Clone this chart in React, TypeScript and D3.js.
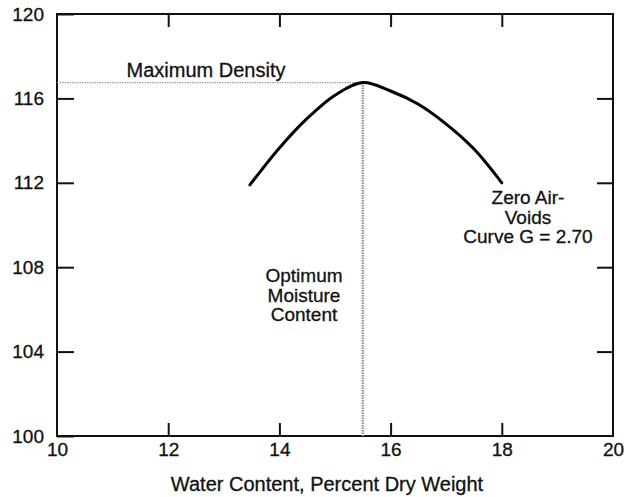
import React, { useRef, useEffect } from 'react';
import * as d3 from 'd3';

// compaction curve
const moisture = [13.47, 14.0, 14.5, 15.0, 15.5, 16.0, 16.5, 17.0, 17.5, 18.0];
const density = [111.9, 113.65, 115.05, 116.15, 116.75, 116.35, 115.72, 114.78, 113.6, 112.0];

const xTicks = [10, 12, 14, 16, 18, 20];
const yTicks = [100, 104, 108, 112, 116, 120];

const optimumMoisture = 15.5;
const maxDensity = 116.75;

const maxLabel = 'Maximum Density';
const optimumLabel = ['Optimum', 'Moisture', 'Content'];
const zavLabel = ['Zero Air-', 'Voids', 'Curve G = 2.70'];
const xTitle = 'Water Content, Percent Dry Weight';

const FONT = '"Liberation Sans", Arial, Helvetica, sans-serif';

export default function App() {
  const svgRef = useRef<SVGSVGElement>(null);

  useEffect(() => {
    if (!svgRef.current) return;
    const svg = d3.select(svgRef.current);
    svg.selectAll('*').remove();

    const width = 631;
    const height = 497;
    const left = 57;
    const right = 613;
    const top = 14;
    const bottom = 436;

    svg.attr('width', width).attr('height', height);

    const x = d3.scaleLinear().domain([10, 20]).range([left, right]);
    const y = d3.scaleLinear().domain([100, 120]).range([bottom, top]);

    const styleAxis = (g: any) => {
      g.select('.domain').remove();
      g.selectAll('line').attr('stroke', '#111').attr('stroke-width', 2);
      g.selectAll('text')
        .attr('fill', '#111')
        .attr('stroke', '#111')
        .attr('stroke-width', 0.3)
        .attr('font-family', FONT)
        .attr('font-size', 19);
    };

    // ticks, all pointing inward
    svg.append('g')
      .attr('transform', `translate(${left},0)`)
      .call(d3.axisLeft(y).tickValues(yTicks).tickFormat(d3.format('d')).tickSizeInner(-17).tickSizeOuter(0).tickPadding(13))
      .call(styleAxis);

    svg.append('g')
      .attr('transform', `translate(${right},0)`)
      .call(d3.axisRight(y).tickValues(yTicks.slice(1, -1)).tickFormat(() => '').tickSizeInner(-16).tickSizeOuter(0))
      .call(styleAxis);

    svg.append('g')
      .attr('transform', `translate(0,${top})`)
      .call(d3.axisTop(x).tickValues(xTicks.slice(1, -1)).tickFormat(() => '').tickSizeInner(-13).tickSizeOuter(0))
      .call(styleAxis);

    const xAxis = svg.append('g')
      .attr('transform', `translate(0,${bottom})`)
      .call(d3.axisBottom(x).tickValues(xTicks).tickFormat(d3.format('d')).tickSizeInner(-13).tickSizeOuter(0).tickPadding(7))
      .call(styleAxis);
    xAxis.selectAll('.tick')
      .filter((d: any) => d === 10 || d === 20)
      .select('line')
      .remove();

    // frame
    svg.append('rect')
      .attr('x', left)
      .attr('y', top)
      .attr('width', right - left)
      .attr('height', bottom - top)
      .attr('fill', 'none')
      .attr('stroke', '#111')
      .attr('stroke-width', 2);

    // guide lines to the peak
    svg.append('line')
      .attr('x1', left)
      .attr('x2', x(optimumMoisture))
      .attr('y1', y(maxDensity))
      .attr('y2', y(maxDensity))
      .attr('stroke', '#999')
      .attr('stroke-width', 1.3)
      .attr('stroke-dasharray', '1.5,1');

    svg.append('line')
      .attr('x1', x(optimumMoisture))
      .attr('x2', x(optimumMoisture))
      .attr('y1', y(maxDensity))
      .attr('y2', bottom)
      .attr('stroke', '#999')
      .attr('stroke-width', 2.6)
      .attr('stroke-dasharray', '1.5,1');

    // compaction curve
    const pts: [number, number][] = moisture.map((m, i) => [m, density[i]]);
    const line = d3.line<[number, number]>()
      .x((d) => x(d[0]))
      .y((d) => y(d[1]))
      .curve(d3.curveCatmullRom.alpha(0.5));

    svg.append('path')
      .attr('d', line(pts))
      .attr('fill', 'none')
      .attr('stroke', '#000')
      .attr('stroke-width', 3)
      .attr('stroke-linecap', 'round');

    const addText = (sel: any, size = 20) =>
      sel
        .attr('text-anchor', 'middle')
        .attr('font-family', FONT)
        .attr('font-size', size)
        .attr('fill', '#111')
        .attr('stroke', '#111')
        .attr('stroke-width', 0.3);

    // annotations
    svg.append('text')
      .attr('x', 206)
      .attr('y', 77)
      .call(addText)
      .text(maxLabel);

    svg.append('g')
      .selectAll('text')
      .data(optimumLabel)
      .enter()
      .append('text')
      .attr('x', 304)
      .attr('y', (_, i) => 282 + i * 19.5)
      .call(addText, 19)
      .text((d) => d);

    svg.append('g')
      .selectAll('text')
      .data(zavLabel)
      .enter()
      .append('text')
      .attr('x', 528)
      .attr('y', (_, i) => 204 + i * 19.5)
      .call(addText, 19)
      .text((d) => d);

    svg.append('text')
      .attr('x', 327)
      .attr('y', 491)
      .call(addText)
      .text(xTitle);
  }, []);

  return (
    <div style={{ position: 'absolute', left: 0, top: 0, background: '#fff' }}>
      <svg ref={svgRef} style={{ display: 'block' }} />
    </div>
  );
}
